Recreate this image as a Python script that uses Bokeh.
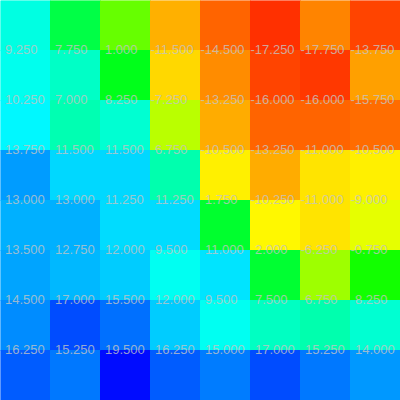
import numpy as np
from bokeh.plotting import figure
from bokeh.models import ColumnDataSource, LinearColorMapper
from bokeh.transform import transform
from bokeh.core.properties import value
from bokeh.embed import file_html
from bokeh.resources import INLINE

# 8 columns x 8 rows, rows listed top to bottom
row0 = [8.75, 2.75, -4.0, -13.0, -16.0, -18.0, -14.75, -17.25]
row1 = [9.25, 7.75, 1.0, -11.5, -14.5, -17.25, -17.75, -13.75]
row2 = [10.25, 7.0, 8.25, -7.25, -13.25, -16.0, -16.0, -15.75]
row3 = [13.75, 11.5, 11.5, 6.75, -10.5, -13.25, -11.0, -10.5]
row4 = [13.0, 13.0, 11.25, 11.25, 1.75, -10.25, -11.0, -9.0]
row5 = [13.5, 12.75, 12.0, 9.5, 11.0, 2.0, -6.25, -0.75]
row6 = [14.5, 17.0, 15.5, 12.0, 9.5, 7.5, 6.75, 8.25]
row7 = [16.25, 15.25, 19.5, 16.25, 15.0, 17.0, 15.25, 14.0]
rows = [row0, row1, row2, row3, row4, row5, row6, row7]

color_low = -20.0
color_high = 20.0

# rainbow palette: red -> yellow -> green -> cyan -> blue
stops = np.array([[255, 0, 0], [255, 255, 0], [0, 255, 0], [0, 255, 255], [0, 0, 255]], dtype=float)
n = 256
pos = np.linspace(0, len(stops) - 1, n)
palette = []
for t in pos:
    i = min(int(np.floor(t)), len(stops) - 2)
    f = t - i
    c = stops[i] * (1 - f) + stops[i + 1] * f
    palette.append("#%02x%02x%02x" % tuple(int(round(v)) for v in c))

nrows = len(rows)
ncols = len(rows[0])
xs, ys, vals = [], [], []
for r, row in enumerate(rows):
    for c, v in enumerate(row):
        xs.append(c + 0.5)
        ys.append(nrows - r - 0.5)
        vals.append(v)
cell_src = ColumnDataSource(dict(x=xs, y=ys, v=vals))

# labels sit on each cell's top edge (top row's labels fall outside the view)
tx, ty, tt, toff = [], [], [], []
for r, row in enumerate(rows):
    if r == 0:
        continue
    for c, v in enumerate(row):
        tx.append(c)
        ty.append(nrows - r)
        tt.append("%.3f" % v)
        toff.append(0 if v < 0 else 4.5)
text_src = ColumnDataSource(dict(x=tx, y=ty, t=tt, off=toff))

mapper = LinearColorMapper(palette=palette, low=color_low, high=color_high)

p = figure(width=400, height=400, x_range=(0, ncols), y_range=(0, nrows),
           output_backend="svg", toolbar_location=None,
           x_axis_location=None, y_axis_location=None, min_border=0)
p.outline_line_color = None
p.xgrid.visible = False
p.ygrid.visible = False

p.rect(x="x", y="y", width=1, height=1, source=cell_src,
       fill_color=transform("v", mapper), line_color=transform("v", mapper),
       line_width=1)
p.text(x="x", y="y", text="t", source=text_src, x_offset="off", y_offset=-1,
       text_align="left", text_baseline="alphabetic",
       text_font=value("Liberation Sans"), text_font_size="13px",
       text_color="#c4c4c4", text_alpha=0.8)

open("out.html", "w").write(file_html(p, INLINE))
